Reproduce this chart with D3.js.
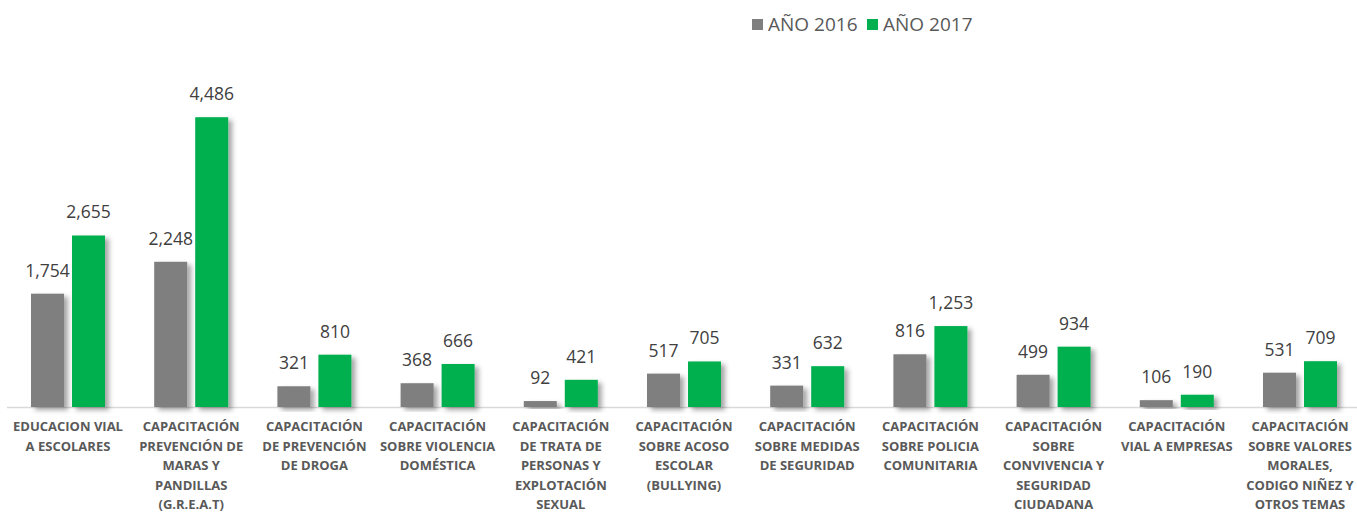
<!DOCTYPE html>
<html>
<head>
<meta charset="utf-8">
<script src="https://cdn.jsdelivr.net/npm/d3@7"></script>
<style>
  body { margin: 0; background: #fff; }
  svg { display: block; font-family: "Open Sans", sans-serif; }
</style>
</head>
<body>
<div id="vis"></div>
<script>
const WIDTH = 1357;
const HEIGHT = 514;
const BASE_Y = 407;

// categories, split into lines as in the original
const categories = [
  ["EDUCACION VIAL", "A ESCOLARES"],
  ["CAPACITACIÓN", "PREVENCIÓN DE", "MARAS Y", "PANDILLAS", "(G.R.E.A.T)"],
  ["CAPACITACIÓN", "DE PREVENCIÓN", "DE DROGA"],
  ["CAPACITACIÓN", "SOBRE VIOLENCIA", "DOMÉSTICA"],
  ["CAPACITACIÓN", "DE TRATA DE", "PERSONAS Y", "EXPLOTACIÓN", "SEXUAL"],
  ["CAPACITACIÓN", "SOBRE ACOSO", "ESCOLAR", "(BULLYING)"],
  ["CAPACITACIÓN", "SOBRE MEDIDAS", "DE SEGURIDAD"],
  ["CAPACITACIÓN", "SOBRE POLICIA", "COMUNITARIA"],
  ["CAPACITACIÓN", "SOBRE", "CONVIVENCIA Y", "SEGURIDAD", "CIUDADANA"],
  ["CAPACITACIÓN", "VIAL A EMPRESAS"],
  ["CAPACITACIÓN", "SOBRE VALORES", "MORALES,", "CODIGO NIÑEZ Y", "OTROS TEMAS"]
];
const series = ["AÑO 2016", "AÑO 2017"];
const values2016 = [1754, 2248, 321, 368, 92, 517, 331, 816, 499, 106, 531];
const values2017 = [2655, 4486, 810, 666, 421, 705, 632, 1253, 934, 190, 709];
const colors = ["#7f7f7f", "#00b050"];

const keys = categories.map((c, i) => "c" + i);
const data = keys.map((k, i) => ({
  key: k,
  lines: categories[i],
  vals: [values2016[i], values2017[i]]
}));

const svg = d3.select("#vis").append("svg")
  .attr("width", WIDTH)
  .attr("height", HEIGHT);

// soft shadow like the office chart
const defs = svg.append("defs");
const f = defs.append("filter").attr("id", "shadow")
  .attr("x", "-20%").attr("y", "-20%").attr("width", "160%").attr("height", "140%");
f.append("feDropShadow")
  .attr("dx", 4).attr("dy", 3).attr("stdDeviation", 2.5)
  .attr("flood-color", "#000").attr("flood-opacity", 0.35);

const x0 = d3.scaleBand().domain(keys).range([6.4, 1361.6]);
const x1 = d3.scaleBand().domain(series).range([0, x0.bandwidth()])
  .paddingInner(0.195).paddingOuter(0.6);
const y = d3.scaleLinear().domain([0, 5000]).range([BASE_Y, 84]);

// axis line
svg.append("line")
  .attr("x1", 7).attr("x2", WIDTH)
  .attr("y1", BASE_Y + 0.5).attr("y2", BASE_Y + 0.5)
  .attr("stroke", "#d9d9d9").attr("stroke-width", 1.5);

const groups = svg.append("g").selectAll("g")
  .data(data).enter().append("g")
  .attr("transform", d => `translate(${x0(d.key)},0)`);

groups.selectAll("rect")
  .data(d => d.vals.map((v, j) => ({ s: series[j], v: v, j: j })))
  .enter().append("rect")
  .attr("x", d => x1(d.s))
  .attr("width", x1.bandwidth())
  .attr("y", d => y(d.v))
  .attr("height", d => BASE_Y - y(d.v))
  .attr("fill", d => colors[d.j])
  .attr("filter", "url(#shadow)");

groups.selectAll("text.val")
  .data(d => d.vals.map((v, j) => ({ s: series[j], v: v, j: j })))
  .enter().append("text")
  .attr("class", "val")
  .attr("x", d => x1(d.s) + x1.bandwidth() / 2)
  .attr("y", d => y(d.v) - 17)
  .attr("text-anchor", "middle")
  .attr("font-size", 17.5)
  .attr("fill", "#404040")
  .text(d => d3.format(",")(d.v));

// category labels
const lab = svg.append("g").selectAll("text")
  .data(data).enter().append("text")
  .attr("x", d => x0(d.key) + x0.bandwidth() / 2)
  .attr("y", 431)
  .attr("text-anchor", "middle")
  .attr("font-size", 13)
  .attr("font-weight", "bold")
  .attr("fill", "#595959");
lab.selectAll("tspan")
  .data(d => d.lines.map((l, i) => ({ l, i, cx: x0(d.key) + x0.bandwidth() / 2 })))
  .enter().append("tspan")
  .attr("x", d => d.cx)
  .attr("dy", d => d.i === 0 ? 0 : 19.5)
  .text(d => d.l);

// legend
const legendX = [752, 867];
const legend = svg.append("g").selectAll("g")
  .data(series).enter().append("g")
  .attr("transform", (d, i) => `translate(${legendX[i]},19)`);
legend.append("rect")
  .attr("width", 11).attr("height", 11)
  .attr("fill", (d, i) => colors[i]);
legend.append("text")
  .attr("x", 16).attr("y", 12)
  .attr("font-size", 19)
  .attr("fill", "#595959")
  .text(d => d);
</script>
</body>
</html>
